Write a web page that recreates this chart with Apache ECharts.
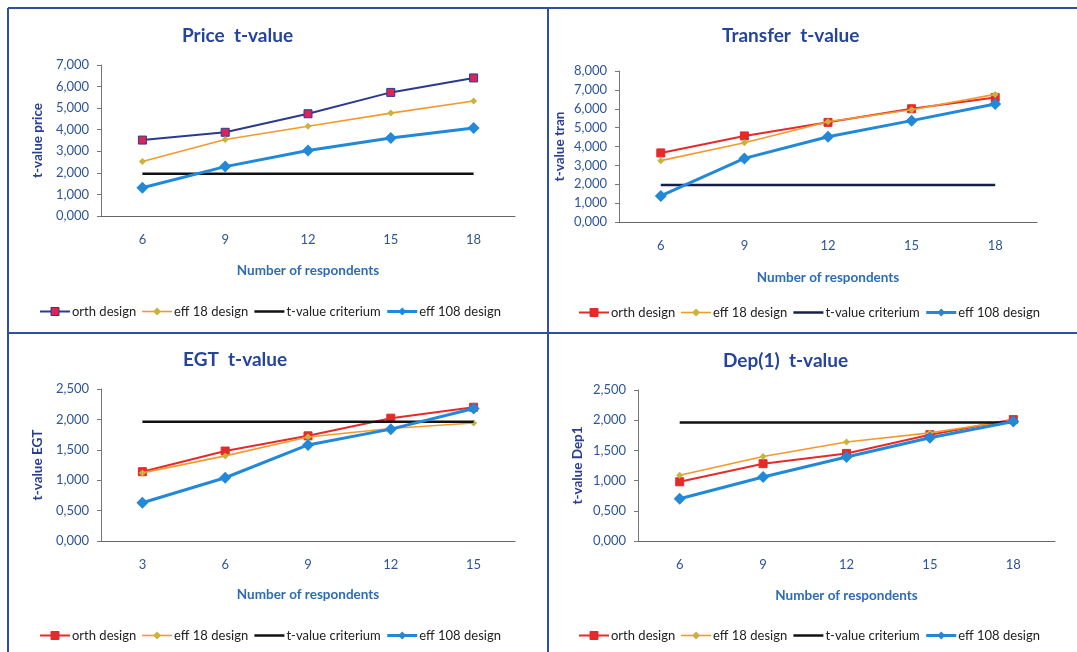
<!DOCTYPE html>
<html>
<head>
<meta charset="utf-8">
<script src="https://cdn.jsdelivr.net/npm/echarts@6/dist/echarts.min.js"></script>
<style>html,body{margin:0;padding:0;background:#fff;}#c{width:1077px;height:652px;}</style>
</head>
<body>
<div id="c"></div>
<script>
// ---- data ----
const respondents = ['6', '9', '12', '15', '18'];
const respondentsEGT = ['3', '6', '9', '12', '15'];
const seriesNames = ['orth design', 'eff 18 design', 't-value criterium', 'eff 108 design'];

const priceOrth = [3.52, 3.88, 4.74, 5.73, 6.40];
const priceEff18 = [2.53, 3.55, 4.16, 4.77, 5.33];
const priceCrit = [1.96, 1.96, 1.96, 1.96, 1.96];
const priceEff108 = [1.31, 2.29, 3.04, 3.62, 4.08];

const tranOrth = [3.66, 4.56, 5.28, 6.00, 6.60];
const tranEff18 = [3.25, 4.20, 5.31, 5.95, 6.76];
const tranCrit = [1.96, 1.96, 1.96, 1.96, 1.96];
const tranEff108 = [1.38, 3.37, 4.52, 5.37, 6.25];

const egtOrth = [1.14, 1.48, 1.73, 2.02, 2.20];
const egtEff18 = [1.12, 1.40, 1.71, 1.85, 1.94];
const egtCrit = [1.96, 1.96, 1.96, 1.96, 1.96];
const egtEff108 = [0.63, 1.04, 1.58, 1.84, 2.18];

const depOrth = [0.98, 1.28, 1.45, 1.76, 2.01];
const depEff18 = [1.09, 1.40, 1.64, 1.79, 2.00];
const depCrit = [1.96, 1.96, 1.96, 1.96, 1.96];
const depEff108 = [0.70, 1.06, 1.39, 1.71, 1.98];

const titles = ['Price  t-value', 'Transfer  t-value', 'EGT  t-value', 'Dep(1)  t-value'];
const yNames = ['t-value price', 't-value tran', 't-value EGT', 't-value Dep1'];
const xName = 'Number of respondents';
const yMax = [7, 8, 2.5, 2.5];
const yInterval = [1, 1, 0.5, 0.5];

// ---- styling / layout ----
const FONT = 'Lato';
const NAVY = '#2c3a8c';
const RED = '#e52a2c';
const ORANGE = '#f39a2c';
const BLUE = '#2288d8';
const BORDER = '#2f4f9f';

const grids = [
  {left: 101, top: 65, width: 414, height: 151},
  {left: 619, top: 71, width: 418, height: 151},
  {left: 101, top: 389, width: 414, height: 152},
  {left: 638, top: 390, width: 417, height: 151}
];
const titlePos = [[177, 21], [717, 21], [178, 345], [718, 346]];
const legendPos = [[34, 300], [573, 301], [34, 624], [573, 624]];
const yNameGap = [56, 52, 56, 53];
const xNameGap = [48, 49, 47, 48];

const panels = [
  {cats: respondents, data: [priceOrth, priceEff18, priceCrit, priceEff108], orth: NAVY, orthFill: '#d8265a', crit: '#111111'},
  {cats: respondents, data: [tranOrth, tranEff18, tranCrit, tranEff108], orth: RED, orthFill: RED, crit: '#151f48'},
  {cats: respondentsEGT, data: [egtOrth, egtEff18, egtCrit, egtEff108], orth: RED, orthFill: RED, crit: '#111111'},
  {cats: respondents, data: [depOrth, depEff18, depCrit, depEff108], orth: RED, orthFill: RED, crit: '#111111'}
];

function fmt(v) { return v.toFixed(3).replace('.', ','); }

const option = {
  animation: false,
  backgroundColor: '#ffffff',
  textStyle: {fontFamily: FONT},
  title: [], legend: [], grid: [], xAxis: [], yAxis: [], series: [],
  graphic: [
    {type: 'line', shape: {x1: 8, y1: 8, x2: 1077, y2: 8}, style: {stroke: BORDER, lineWidth: 2}},
    {type: 'line', shape: {x1: 8, y1: 8, x2: 8, y2: 652}, style: {stroke: BORDER, lineWidth: 2}},
    {type: 'line', shape: {x1: 548, y1: 8, x2: 548, y2: 652}, style: {stroke: BORDER, lineWidth: 2}},
    {type: 'line', shape: {x1: 8, y1: 333, x2: 1077, y2: 333}, style: {stroke: BORDER, lineWidth: 2}}
  ]
};

panels.forEach((p, i) => {
  option.grid.push(Object.assign({containLabel: false}, grids[i]));
  option.title.push({
    text: titles[i], left: titlePos[i][0], top: titlePos[i][1],
    textStyle: {fontFamily: FONT, fontSize: 19, fontWeight: 'bold', color: '#25449a'}
  });
  const styles = [
    {line: p.orth, item: p.orthFill, border: p.orth, symbol: 'rect', size: 8, width: 2},
    {line: ORANGE, item: '#c8b43a', border: '#c8b43a', symbol: 'diamond', size: 7, width: 1.6},
    {line: p.crit, item: 'rgba(0,0,0,0)', border: 'rgba(0,0,0,0)', symbol: 'circle', size: 0, width: 2.5},
    {line: BLUE, item: BLUE, border: BLUE, symbol: 'diamond', size: 12, width: 3}
  ];
  option.legend.push({
    left: legendPos[i][0], top: legendPos[i][1],
    itemWidth: 30, itemHeight: 10, itemGap: 5,
    textStyle: {fontFamily: FONT, fontSize: 13, color: '#222222', padding: [0, 0, 0, -3]},
    selectedMode: false,
    data: seriesNames.map((n, k) => ({
      name: n,
      itemStyle: {color: styles[k].item, borderColor: styles[k].border, borderWidth: k === 0 ? 1 : 0},
      lineStyle: {color: styles[k].line, width: styles[k].width}
    }))
  });
  option.xAxis.push({
    type: 'category', gridIndex: i, data: p.cats, boundaryGap: true,
    name: xName, nameLocation: 'middle', nameGap: xNameGap[i],
    nameTextStyle: {fontFamily: FONT, fontSize: 13.5, fontWeight: 'bold', color: '#2e6bb6'},
    axisLine: {lineStyle: {color: '#666666', width: 1}},
    axisTick: {inside: true, length: 4, lineStyle: {color: '#666666'}},
    axisLabel: {fontFamily: FONT, fontSize: 13, color: '#2e5597', margin: 17},
    splitLine: {show: false}
  });
  option.yAxis.push({
    type: 'value', gridIndex: i, min: 0, max: yMax[i], interval: yInterval[i],
    name: yNames[i], nameLocation: 'middle', nameGap: yNameGap[i],
    nameTextStyle: {fontFamily: FONT, fontSize: 13.5, fontWeight: 'bold', color: '#2a3f8f'},
    axisLine: {show: true, lineStyle: {color: '#777777', width: 1}},
    axisTick: {show: true, length: 4, lineStyle: {color: '#777777'}},
    axisLabel: {fontFamily: FONT, fontSize: 13, color: '#2e5597', margin: 12, formatter: fmt},
    splitLine: {show: false}
  });
  seriesNames.forEach((n, k) => {
    const s = styles[k];
    const isCrit = k === 2;
    option.series.push({
      type: 'line', name: n, xAxisIndex: i, yAxisIndex: i, data: p.data[k],
      symbol: s.symbol, symbolSize: s.size, showSymbol: !isCrit,
      lineStyle: {color: s.line, width: s.width},
      itemStyle: {color: isCrit ? s.line : s.item, borderColor: isCrit ? s.line : s.border, borderWidth: k === 0 ? 1 : 0},
      emphasis: {disabled: true}, z: 2 + k
    });
  });
});

const chart = echarts.init(document.getElementById('c'), null, {renderer: 'canvas'});
chart.setOption(option);
</script>
</body>
</html>
